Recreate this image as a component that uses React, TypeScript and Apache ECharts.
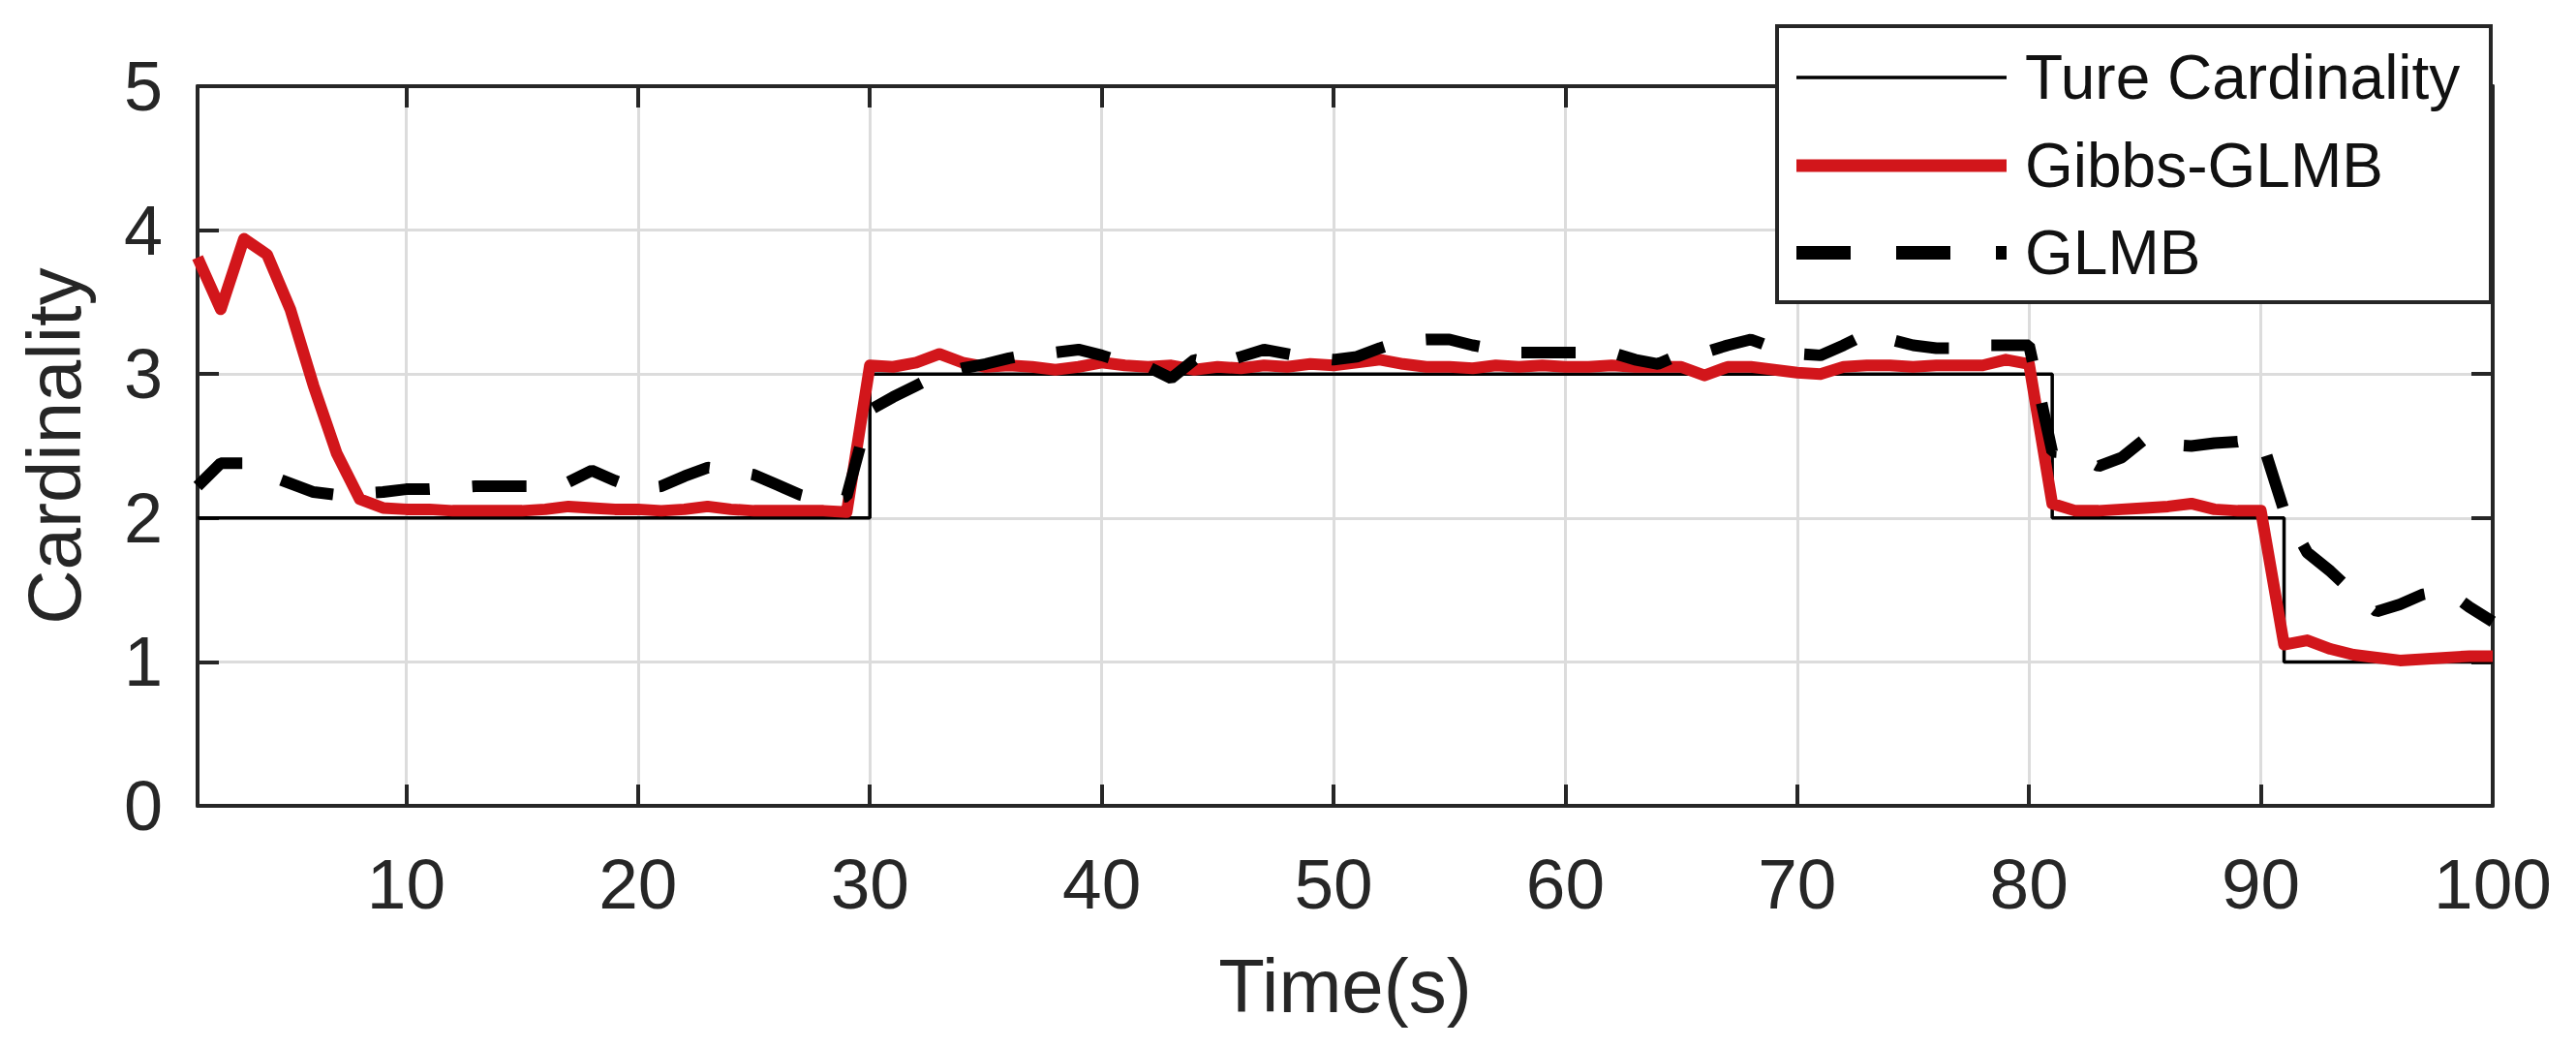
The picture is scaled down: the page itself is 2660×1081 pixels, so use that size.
import React, { useEffect, useRef } from 'react';
import * as echarts from 'echarts';

// ---------- data ----------
const timeSteps = [
  1, 2, 3, 4, 5, 6, 7, 8, 9, 10, 11, 12, 13, 14, 15, 16, 17, 18, 19, 20,
  21, 22, 23, 24, 25, 26, 27, 28, 29, 30, 31, 32, 33, 34, 35, 36, 37, 38, 39, 40,
  41, 42, 43, 44, 45, 46, 47, 48, 49, 50, 51, 52, 53, 54, 55, 56, 57, 58, 59, 60,
  61, 62, 63, 64, 65, 66, 67, 68, 69, 70, 71, 72, 73, 74, 75, 76, 77, 78, 79, 80,
  81, 82, 83, 84, 85, 86, 87, 88, 89, 90, 91, 92, 93, 94, 95, 96, 97, 98, 99, 100,
];

// true cardinality, drawn as a staircase through its change points
const trueTimes = [1, 30, 81, 91, 100];
const trueCardinality = [2, 3, 2, 1, 1];

const gibbsGlmb = [
  3.81, 3.45, 3.94, 3.83, 3.45, 2.92, 2.45, 2.13, 2.07, 2.06,
  2.06, 2.05, 2.05, 2.05, 2.05, 2.06, 2.08, 2.07, 2.06, 2.06,
  2.05, 2.06, 2.08, 2.06, 2.05, 2.05, 2.05, 2.05, 2.04, 3.06,
  3.05, 3.08, 3.14, 3.08, 3.05, 3.06, 3.05, 3.03, 3.05, 3.08,
  3.06, 3.05, 3.06, 3.03, 3.05, 3.04, 3.06, 3.05, 3.07, 3.06,
  3.08, 3.1, 3.07, 3.05, 3.05, 3.04, 3.06, 3.05, 3.06, 3.05,
  3.05, 3.06, 3.05, 3.05, 3.05, 2.99, 3.05, 3.05, 3.03, 3.01,
  3.0, 3.05, 3.06, 3.06, 3.05, 3.06, 3.06, 3.06, 3.1, 3.07,
  2.1, 2.05, 2.05, 2.06, 2.07, 2.08, 2.1, 2.06, 2.05, 2.05,
  1.12, 1.15, 1.09, 1.05, 1.03, 1.01, 1.02, 1.03, 1.04, 1.04,
];

const glmb = [
  2.22, 2.38, 2.38, 2.3, 2.24, 2.18, 2.16, 2.17, 2.18, 2.2,
  2.2, 2.21, 2.22, 2.22, 2.22, 2.22, 2.25, 2.33, 2.26, 2.2,
  2.22, 2.29, 2.35, 2.33, 2.3, 2.23, 2.16, 2.12, 2.15, 2.75,
  2.84, 2.92, 3.0, 3.04, 3.07, 3.11, 3.14, 3.15, 3.17, 3.13,
  3.08, 3.05, 2.97, 3.1, 3.07, 3.12, 3.17, 3.14, 3.11, 3.1,
  3.12, 3.18, 3.23, 3.24, 3.24, 3.2, 3.17, 3.15, 3.15, 3.15,
  3.15, 3.15, 3.1, 3.07, 3.14, 3.15, 3.2, 3.24, 3.18, 3.14,
  3.13, 3.2, 3.28, 3.24, 3.2, 3.18, 3.18, 3.2, 3.2, 3.2,
  2.46, 2.45, 2.36, 2.42, 2.55, 2.51, 2.5, 2.52, 2.53, 2.56,
  2.05, 1.76, 1.63, 1.48, 1.35, 1.4, 1.47, 1.5, 1.38, 1.28,
];

const seriesNames = ['Ture Cardinality', 'Gibbs-GLMB', 'GLMB'];
const xAxisTitle = 'Time(s)';
const yAxisTitle = 'Cardinality';
const xRange = [1, 100];
const yRange = [0, 5];

// ---------- styling ----------
const FONT = "'Liberation Sans', Arial, Helvetica, sans-serif";
const AXIS_COLOR = '#262626';
const GRID_COLOR = '#dcdcdc';
const RED = '#d2161b';

const PLOT = { left: 204, top: 89, right: 2574, bottom: 832 };
const LEGEND = { x: 1835, y: 27, w: 737, h: 285, lineX1: 1855, lineX2: 2072, textX: 2091, rows: [80, 171, 261] };

function pairs(xs: number[], ys: number[]) {
  return xs.map((x, i) => [x, ys[i]]);
}

export default function App() {
  const ref = useRef<HTMLDivElement | null>(null);

  useEffect(() => {
    if (!ref.current) return;
    const chart = echarts.init(ref.current, undefined, { renderer: 'svg' });

    const tickStyle = { show: true, inside: true, length: 22, lineStyle: { color: AXIS_COLOR, width: 4 } };
    const lineAxis = { show: true, onZero: false, lineStyle: { color: AXIS_COLOR, width: 4 } };

    const option: any = {
      animation: false,
      backgroundColor: '#ffffff',
      grid: {
        left: PLOT.left,
        top: PLOT.top,
        width: PLOT.right - PLOT.left,
        height: PLOT.bottom - PLOT.top,
        containLabel: false,
        outerBoundsMode: 'none',
      },
      xAxis: [
        {
          type: 'value',
          position: 'bottom',
          min: xRange[0],
          max: xRange[1],
          splitNumber: 10,
          minInterval: 10,
          maxInterval: 10,
          axisLine: lineAxis,
          axisTick: tickStyle,
          axisLabel: {
            show: true,
            margin: 44,
            color: AXIS_COLOR,
            fontFamily: FONT,
            fontSize: 73,
            lineHeight: 73,
            formatter: (v: number) => (v === xRange[0] ? '' : String(v)),
          },
          splitLine: { show: true, lineStyle: { color: GRID_COLOR, width: 3 } },
          name: xAxisTitle,
          nameLocation: 'middle',
          nameGap: 147,
          nameTextStyle: { color: AXIS_COLOR, fontFamily: FONT, fontSize: 78, lineHeight: 78 },
        },
        {
          type: 'value',
          position: 'top',
          min: xRange[0],
          max: xRange[1],
          splitNumber: 10,
          minInterval: 10,
          maxInterval: 10,
          axisLine: lineAxis,
          axisTick: tickStyle,
          axisLabel: { show: false },
          splitLine: { show: false },
        },
      ],
      yAxis: [
        {
          type: 'value',
          position: 'left',
          min: yRange[0],
          max: yRange[1],
          interval: 1,
          axisLine: lineAxis,
          axisTick: tickStyle,
          axisLabel: {
            show: true,
            margin: 36,
            color: AXIS_COLOR,
            fontFamily: FONT,
            fontSize: 72,
            lineHeight: 72,
          },
          splitLine: { show: true, lineStyle: { color: GRID_COLOR, width: 3 } },
          name: yAxisTitle,
          nameLocation: 'middle',
          nameGap: 109,
          nameTextStyle: { color: AXIS_COLOR, fontFamily: FONT, fontSize: 78, lineHeight: 78 },
        },
        {
          type: 'value',
          position: 'right',
          min: yRange[0],
          max: yRange[1],
          interval: 1,
          axisLine: lineAxis,
          axisTick: tickStyle,
          axisLabel: { show: false },
          splitLine: { show: false },
        },
      ],
      series: [
        {
          name: seriesNames[0],
          type: 'line',
          xAxisIndex: 0,
          yAxisIndex: 0,
          step: 'end',
          data: pairs(trueTimes, trueCardinality),
          showSymbol: false,
          symbol: 'none',
          lineStyle: { color: '#000000', width: 3.5 },
          itemStyle: { color: '#000000' },
          emphasis: { disabled: true },
        },
        {
          name: seriesNames[1],
          type: 'line',
          xAxisIndex: 0,
          yAxisIndex: 0,
          data: pairs(timeSteps, gibbsGlmb),
          showSymbol: false,
          symbol: 'none',
          lineStyle: { color: RED, width: 12, join: 'round' },
          itemStyle: { color: RED },
          emphasis: { disabled: true },
        },
        {
          name: seriesNames[2],
          type: 'line',
          xAxisIndex: 0,
          yAxisIndex: 0,
          data: pairs(timeSteps, glmb),
          showSymbol: false,
          symbol: 'none',
          lineStyle: { color: '#000000', width: 12, type: [56, 44], cap: 'butt' },
          itemStyle: { color: '#000000' },
          emphasis: { disabled: true },
        },
      ],
      graphic: [
        {
          type: 'rect',
          z: 100,
          shape: { x: LEGEND.x, y: LEGEND.y, width: LEGEND.w, height: LEGEND.h },
          style: { fill: '#ffffff', stroke: AXIS_COLOR, lineWidth: 4 },
        },
        {
          type: 'line',
          z: 101,
          shape: { x1: LEGEND.lineX1, y1: LEGEND.rows[0], x2: LEGEND.lineX2, y2: LEGEND.rows[0] },
          style: { stroke: '#000000', lineWidth: 3.5 },
        },
        {
          type: 'line',
          z: 101,
          shape: { x1: LEGEND.lineX1, y1: LEGEND.rows[1], x2: LEGEND.lineX2, y2: LEGEND.rows[1] },
          style: { stroke: RED, lineWidth: 13 },
        },
        {
          type: 'line',
          z: 101,
          shape: { x1: LEGEND.lineX1, y1: LEGEND.rows[2], x2: LEGEND.lineX2, y2: LEGEND.rows[2] },
          style: { stroke: '#000000', lineWidth: 14, lineDash: [56, 47], lineCap: 'butt' },
        },
        ...seriesNames.map((name, i) => ({
          type: 'text',
          z: 101,
          style: {
            text: name,
            x: LEGEND.textX,
            y: LEGEND.rows[i],
            fill: '#111111',
            font: `64px ${FONT}`,
            fontSize: 64,
            fontFamily: FONT,
            align: 'left',
            verticalAlign: 'middle',
            textAlign: 'left',
            textVerticalAlign: 'middle',
          },
        })),
      ],
    };

    chart.setOption(option);
    return () => {
      chart.dispose();
    };
  }, []);

  return (
    <div
      ref={ref}
      style={{ position: 'fixed', left: 0, top: 0, width: 2660, height: 1081, background: '#ffffff' }}
    />
  );
}
